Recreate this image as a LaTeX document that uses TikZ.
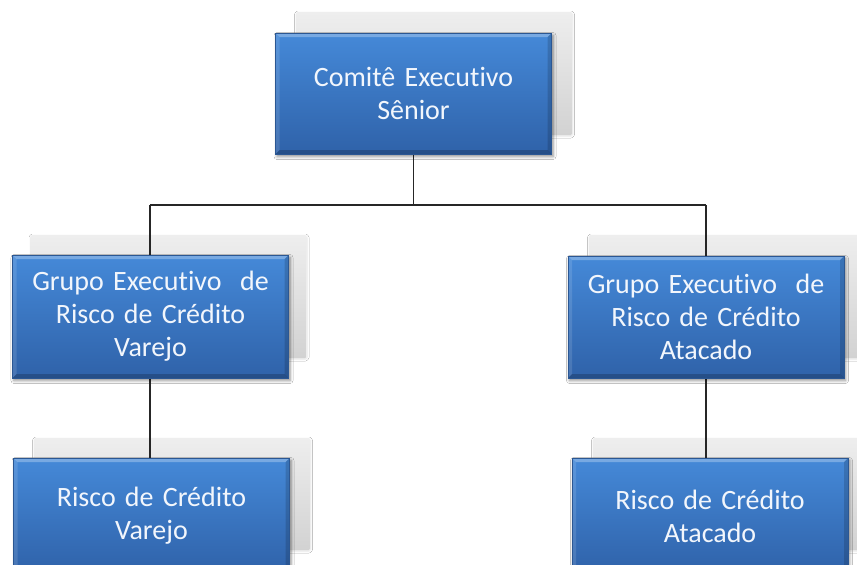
\documentclass[tikz,border=0pt]{standalone}
\usepackage{fontspec}
\setmainfont[Ligatures=NoCommon]{Carlito}
\usetikzlibrary{shadows,shadows.blur,calc}
\pgfdeclarelayer{back}
\pgfdeclarelayer{mid}
\pgfsetlayers{back,mid,main}
\definecolor{bluetop}{HTML}{4589D8}
\definecolor{bluebot}{HTML}{2F62A9}
\definecolor{blueedge}{HTML}{2B5793}
\definecolor{graytop}{HTML}{EEEEEE}
\definecolor{graybot}{HTML}{D2D2D2}
\definecolor{txt}{HTML}{F2F6FC}
\newcommand\myboxfont{\fontsize{28}{33}\selectfont\spaceskip=0.33em plus 0.1em\relax}
\tikzset{
  bluebox/.style={rectangle, minimum width=276pt, inner sep=0pt,
    top color=bluetop, bottom color=bluebot, draw=blueedge, line width=0.8pt,
    align=center, text=txt, font=\myboxfont,
    path picture={
      \fill[white,opacity=0.28] (path picture bounding box.north west) -- (path picture bounding box.north east)
        -- ([xshift=-4pt,yshift=-4pt]path picture bounding box.north east) -- ([xshift=4pt,yshift=-4pt]path picture bounding box.north west) -- cycle;
      \fill[white,opacity=0.12] (path picture bounding box.north west) -- ([xshift=4pt,yshift=-4pt]path picture bounding box.north west)
        -- ([xshift=4pt,yshift=4pt]path picture bounding box.south west) -- (path picture bounding box.south west) -- cycle;
      \fill[black,opacity=0.15] (path picture bounding box.north east) -- ([xshift=-4pt,yshift=-4pt]path picture bounding box.north east)
        -- ([xshift=-4pt,yshift=4pt]path picture bounding box.south east) -- (path picture bounding box.south east) -- cycle;
      \fill[black,opacity=0.2] (path picture bounding box.south west) -- ([xshift=4pt,yshift=4pt]path picture bounding box.south west)
        -- ([xshift=-4pt,yshift=4pt]path picture bounding box.south east) -- (path picture bounding box.south east) -- cycle;
    },
    blur shadow={shadow xshift=1.5pt, shadow yshift=-2.5pt, shadow blur radius=3pt, shadow opacity=45}},
  graybox/.style={rectangle, minimum width=276pt, inner sep=0pt, rounded corners=1.5pt,
    top color=graytop, bottom color=graybot, draw=none,
    blur shadow={shadow xshift=0.5pt, shadow yshift=-1pt, shadow blur radius=2pt, shadow opacity=12}},
  conn/.style={draw=black!85, line width=1.3pt}
}
\begin{document}
\begin{tikzpicture}[x=1pt,y=-1pt]
\clip (0,0) rectangle (857,565);
% blue boxes
\node[bluebox, minimum height=121pt] (n0) at (413.5,93.5) {Comitê Executivo\\Sênior};
\node[bluebox, minimum height=123pt] (n1) at (150.5,316.5) {Grupo Executivo\ \ de\\Risco de Crédito\\Varejo};
\node[bluebox, minimum height=122pt] (n2) at (706,317) {Grupo Executivo\ \ de\\Risco de Crédito\\Atacado};
\node[bluebox, minimum height=116pt] (n3) at (151.5,516) {Risco de Crédito\\Varejo};
\node[bluebox, minimum height=116pt] (n4) at (710,516) {Risco de Crédito\\Atacado};
\begin{pgfonlayer}{back}
\fill[white] (0,0) rectangle (857,565);
\node[graybox, minimum height=123pt] (g0) at (434,73.5) {};
\node[graybox, minimum height=123pt] (g1) at (168.5,296.5) {};
\node[graybox, minimum height=123pt] (g2) at (727,296.5) {};
\node[graybox, minimum height=112pt] (g3) at (172,494) {};
\node[graybox, minimum height=112pt] (g4) at (731,494) {};
\end{pgfonlayer}
\begin{pgfonlayer}{mid}
\coordinate (hl) at (150,205);
\coordinate (hr) at (706,205);
\draw[conn] (n0.south) -- (n0.south |- hl);
\draw[conn] (hl) -- (hr);
\draw[conn] (hl) -- (hl |- n1.north);
\draw[conn] (hr) -- (n2.north);
\draw[conn] (n1.south -| hl) -- (hl |- n3.north);
\draw[conn] (n2.south) -- (n2.south |- n4.north);
\end{pgfonlayer}
\end{tikzpicture}
\end{document}
